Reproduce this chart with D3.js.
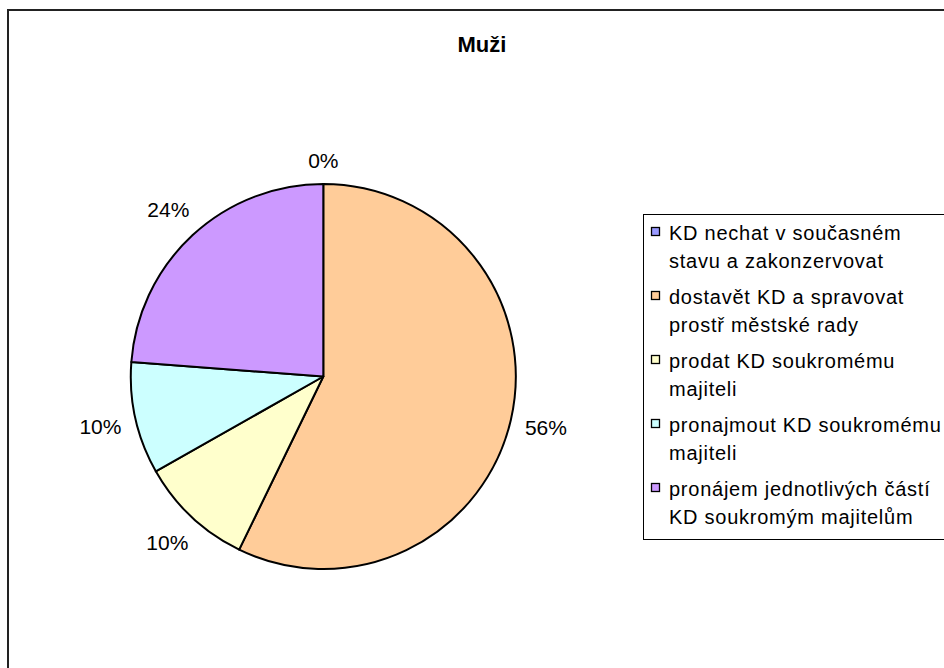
<!DOCTYPE html>
<html><head><meta charset="utf-8">
<script src="https://cdn.jsdelivr.net/npm/d3@7"></script>
<style>html,body{margin:0;padding:0;background:#fff;}svg{display:block;font-family:"Liberation Sans",Arial,sans-serif;}</style>
</head><body>
<script>
const title = "Muži";
const categories = [
  ["KD nechat v současném", "stavu a zakonzervovat"],
  ["dostavět KD a spravovat", "prostř městské rady"],
  ["prodat KD soukromému", "majiteli"],
  ["pronajmout KD soukromému", "majiteli"],
  ["pronájem jednotlivých částí", "KD soukromým majitelům"]
];
const values = [0, 57.2, 9.6, 9.4, 23.8];
const valueLabels = ["0%", "56%", "10%", "10%", "24%"];
const colors = ["#9999FF", "#FFCC99", "#FFFFCC", "#CCFFFF", "#CC99FF"];

const W = 944, H = 668;
const svg = d3.select("body").append("svg").attr("width", W).attr("height", H);

svg.append("rect").attr("x", 8).attr("y", 10).attr("width", 1000).attr("height", 1000)
  .attr("fill", "#fff").attr("stroke", "#222").attr("stroke-width", 2);

svg.append("text").attr("x", 482).attr("y", 52).attr("text-anchor", "middle")
  .attr("font-size", 22).attr("font-weight", "bold").text(title);

const cx = 323.3, cy = 376.5, r = 192.5;
const pie = d3.pie().value(d => d).sort(null);
const arcs = pie(values);
const arc = d3.arc().innerRadius(0).outerRadius(r);
const g = svg.append("g").attr("transform", `translate(${cx},${cy})`);
g.selectAll("path").data(arcs).join("path")
  .attr("d", arc).attr("fill", (d, i) => colors[i])
  .attr("stroke", "#000").attr("stroke-width", 2).attr("stroke-linejoin", "round");

arcs.forEach((a, i) => {
  const mid = (a.startAngle + a.endAngle) / 2;
  const ux = Math.sin(mid), uy = -Math.cos(mid);
  const t = g.append("text").attr("font-size", 21).attr("text-anchor", "middle").text(valueLabels[i]);
  const w = t.node().getComputedTextLength(), h = 22;
  const ext = Math.abs(ux) * w / 2 + Math.abs(uy) * h / 2;
  const d = r + 13 + ext;
  t.attr("x", ux * d).attr("y", uy * d + 7.5);
});

const lg = svg.append("g");
lg.append("rect").attr("x", 643.5).attr("y", 214.5).attr("width", 400).attr("height", 325)
  .attr("fill", "#fff").attr("stroke", "#000").attr("stroke-width", 1);
categories.forEach((lines, i) => {
  const by = 240 + i * 64;
  lg.append("rect").attr("x", 651.5).attr("y", by - 12.5).attr("width", 8).attr("height", 8)
    .attr("fill", colors[i]).attr("stroke", "#000").attr("stroke-width", 1.3);
  lines.forEach((ln, j) => {
    lg.append("text").attr("x", 669).attr("y", by + j * 28).attr("font-size", 20)
      .attr("letter-spacing", 0.75).text(ln);
  });
});
</script>
</body></html>
